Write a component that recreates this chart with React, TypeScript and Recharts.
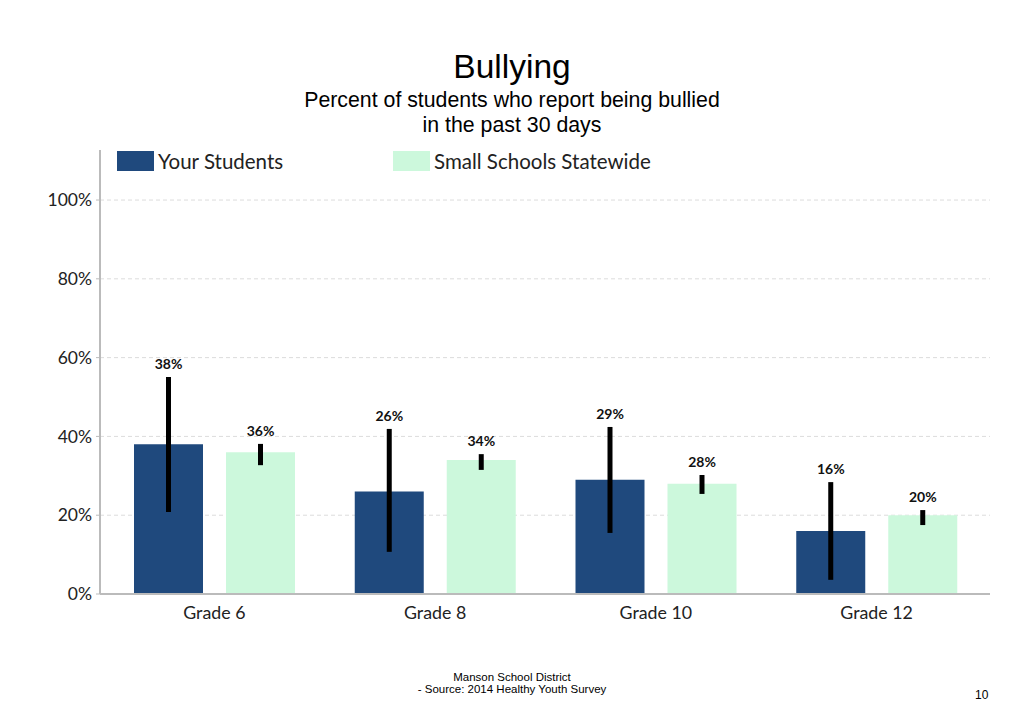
import React from 'react'
import { BarChart, Bar, XAxis, YAxis, CartesianGrid, ErrorBar, LabelList } from 'recharts'

// values (percent); CI bounds estimated from the error bar ends
const GRADES = ['Grade 6', 'Grade 8', 'Grade 10', 'Grade 12']
const YOUR_STUDENTS = [38, 26, 29, 16]
const STATEWIDE = [36, 34, 28, 20]
const YOUR_LOW = [20.8, 10.7, 15.5, 3.6]
const YOUR_HIGH = [55.1, 41.9, 42.4, 28.4]
const STATE_LOW = [32.7, 31.5, 25.4, 17.5]
const STATE_HIGH = [38.1, 35.5, 30.2, 21.3]
const Y_TICKS = [0, 20, 40, 60, 80, 100]

const DARK = '#1F497D'
const LIGHT = '#CCF8DC'

const DATA = GRADES.map((grade, i) => ({
  grade,
  your: YOUR_STUDENTS[i],
  state: STATEWIDE[i],
  yourErr: [YOUR_STUDENTS[i] - YOUR_LOW[i], YOUR_HIGH[i] - YOUR_STUDENTS[i]],
  stateErr: [STATEWIDE[i] - STATE_LOW[i], STATE_HIGH[i] - STATEWIDE[i]],
}))

// label sits above the top of the error bar, not the bar itself
const topLabel = (high: number[]) => (props: any) => {
  const x = Number(props.x)
  const y = Number(props.y)
  const w = Number(props.width)
  const h = Number(props.height)
  const v = Number(props.value)
  const base = y + h
  const top = base - high[props.index] * (h / v)
  return (
    <text x={x + w / 2} y={top - 8} textAnchor="middle" fontFamily="Lato" fontWeight={700} fontSize={14} fill="#111">
      {v}%
    </text>
  )
}

const sans = 'Liberation Sans, Arial, sans-serif'
const legendRow: React.CSSProperties = {
  position: 'absolute',
  top: 150,
  display: 'flex',
  alignItems: 'center',
  fontFamily: 'Lato',
  fontSize: 20.5,
  lineHeight: '22px',
  color: '#222',
}

export default function App() {
  return (
    <div style={{ position: 'absolute', left: 0, top: 0, width: 1024, height: 727, background: '#fff', fontFamily: sans }}>
      <div style={{ position: 'absolute', top: 48, width: 1024, textAlign: 'center', fontSize: 33.5, color: '#000' }}>Bullying</div>
      <div style={{ position: 'absolute', top: 88, width: 1024, textAlign: 'center', fontSize: 21.3, lineHeight: '25px', color: '#000' }}>
        Percent of students who report being bullied
        <br />
        in the past 30 days
      </div>

      <div style={{ position: 'absolute', left: 0, top: 0 }}>
        <BarChart
          width={1024}
          height={727}
          data={DATA}
          margin={{ top: 150, right: 34, left: 40, bottom: 103 }}
          barSize={69}
          barGap={23}
        >
          <CartesianGrid vertical={false} horizontalValues={Y_TICKS} stroke="#dcdcdc" strokeDasharray="4 3" />
          <XAxis
            dataKey="grade"
            height={30}
            padding={{ left: 4, right: 3 }}
            axisLine={{ stroke: '#bbb', strokeWidth: 2 }}
            tickLine={false}
            tickMargin={6}
            tick={{ fill: '#222', fontSize: 17.8, fontFamily: 'Lato' }}
          />
          <YAxis
            width={60}
            domain={[0, 112.7]}
            ticks={Y_TICKS}
            tickFormatter={(v: number) => `${v}%`}
            axisLine={{ stroke: '#bbb', strokeWidth: 2 }}
            tickLine={{ stroke: '#bbb' }}
            tickSize={4}
            tickMargin={4}
            tick={{ fill: '#222', fontSize: 17.5, fontFamily: 'Lato' }}
          />
          <Bar dataKey="your" fill={DARK} isAnimationActive={false}>
            <ErrorBar dataKey="yourErr" direction="y" width={0} stroke="#000" strokeWidth={5} />
            <LabelList dataKey="your" content={topLabel(YOUR_HIGH)} />
          </Bar>
          <Bar dataKey="state" fill={LIGHT} isAnimationActive={false}>
            <ErrorBar dataKey="stateErr" direction="y" width={0} stroke="#000" strokeWidth={5} />
            <LabelList dataKey="state" content={topLabel(STATE_HIGH)} />
          </Bar>
        </BarChart>
      </div>

      <div style={{ ...legendRow, left: 117 }}>
        <span style={{ display: 'inline-block', width: 37, height: 20, background: DARK, marginRight: 4 }} />
        Your Students
      </div>
      <div style={{ ...legendRow, left: 393 }}>
        <span style={{ display: 'inline-block', width: 37, height: 20, background: LIGHT, marginRight: 4 }} />
        Small Schools Statewide
      </div>

      <div style={{ position: 'absolute', top: 671, width: 1024, textAlign: 'center', fontSize: 11.5, lineHeight: '12px', color: '#000' }}>
        Manson School District
        <br />
        - Source: 2014 Healthy Youth Survey
      </div>
      <div style={{ position: 'absolute', left: 975, top: 688, fontSize: 12, color: '#000' }}>10</div>
    </div>
  )
}
